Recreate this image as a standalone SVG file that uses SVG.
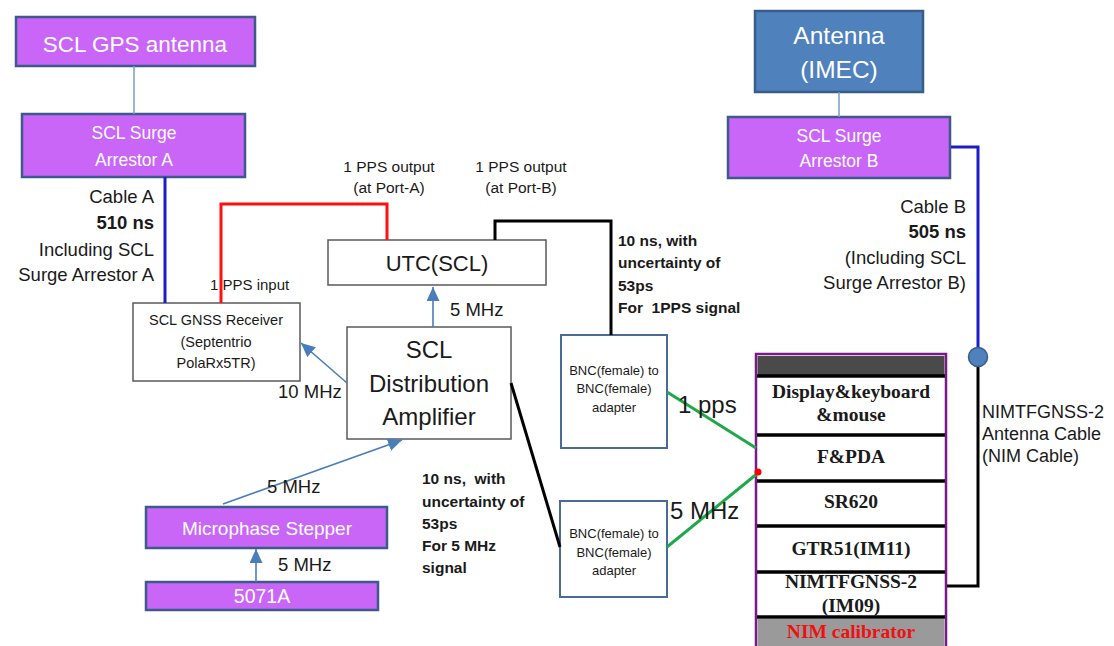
<svg xmlns="http://www.w3.org/2000/svg" width="1114" height="646" viewBox="0 0 1114 646">
<style>
text{font-family:"Liberation Sans",Arial,sans-serif;fill:#1a1a1a}
.w{fill:#fff}
.pbox{fill:#c966f8;stroke:#3d5a8a;stroke-width:2.5}
.bbox{fill:#4f81bd;stroke:#385d8a;stroke-width:2.5}
.wbox{fill:#fff;stroke:#5a5a5a;stroke-width:1.5}
.bnc{fill:#fff;stroke:#4a6b9a;stroke-width:2}
.b{font-weight:bold}
.rk{font-family:"Liberation Serif","Times New Roman",serif;font-weight:bold;font-size:19.5px;fill:#1a1a1a}
.arr{stroke:#4a7ebb;stroke-width:1.6;fill:none}
.thin{stroke:#7a9cc6;stroke-width:1.5;fill:none}
.blue{stroke:#1c1cc8;stroke-width:3;fill:none}
.red{stroke:#ff1010;stroke-width:3;fill:none}
.blk{stroke:#000;stroke-width:3;fill:none}
.grn{stroke:#1fa84a;stroke-width:3;fill:none}
.div{stroke:#000;stroke-width:3.5}
</style>
<defs>
<marker id="ah" markerUnits="userSpaceOnUse" markerWidth="16" markerHeight="14" refX="14" refY="6.5" orient="auto">
<path d="M0,0 L14,6.5 L0,13 Z" fill="#4a7ebb"/>
</marker>
</defs>

<g id="gps-antenna">
<rect class="pbox" x="16" y="17" width="239" height="49"/>
<text class="w" x="135" y="52" font-size="22.5" text-anchor="middle">SCL GPS antenna</text>
</g>
<g id="surge-a">
<rect class="pbox" x="22" y="114" width="223" height="63"/>
<text class="w" x="134" y="139" font-size="17.5" text-anchor="middle">SCL Surge</text>
<text class="w" x="134" y="166" font-size="17.5" text-anchor="middle">Arrestor A</text>
</g>
<g id="antenna-imec">
<rect class="bbox" x="755" y="11" width="168" height="81"/>
<text class="w" x="839" y="44" font-size="24.5" text-anchor="middle">Antenna</text>
<text class="w" x="839" y="78" font-size="24.5" text-anchor="middle">(IMEC)</text>
</g>
<g id="surge-b">
<rect class="pbox" x="728" y="117" width="222" height="61"/>
<text class="w" x="839" y="142" font-size="17.5" text-anchor="middle">SCL Surge</text>
<text class="w" x="839" y="167" font-size="17.5" text-anchor="middle">Arrestor B</text>
</g>
<g id="utc-scl">
<rect class="wbox" x="328" y="240" width="218" height="45"/>
<text x="437" y="271" font-size="22" text-anchor="middle">UTC(SCL)</text>
</g>
<g id="gnss-receiver">
<rect class="wbox" x="133" y="303" width="167" height="78"/>
<text x="216" y="325" font-size="14.5" text-anchor="middle">SCL GNSS Receiver</text>
<text x="216" y="347" font-size="14.5" text-anchor="middle">(Septentrio</text>
<text x="216" y="368" font-size="14.5" text-anchor="middle">PolaRx5TR)</text>
</g>
<g id="distribution-amplifier">
<rect class="wbox" x="347" y="327" width="164" height="112"/>
<text x="429" y="358" font-size="24" text-anchor="middle">SCL</text>
<text x="429" y="392" font-size="24" text-anchor="middle">Distribution</text>
<text x="429" y="425" font-size="24" text-anchor="middle">Amplifier</text>
</g>
<g id="microphase-stepper">
<rect class="pbox" x="146" y="507" width="241" height="41"/>
<text class="w" x="267" y="535" font-size="19" text-anchor="middle">Microphase Stepper</text>
</g>
<g id="cs-5071a">
<rect class="pbox" x="146" y="582" width="232" height="28"/>
<text class="w" x="262" y="603" font-size="19.5" text-anchor="middle">5071A</text>
</g>
<g id="bnc-1pps">
<rect class="bnc" x="561" y="335" width="106" height="113"/>
<text x="614" y="375" font-size="13" text-anchor="middle">BNC(female) to</text>
<text x="614" y="393" font-size="13" text-anchor="middle">BNC(female)</text>
<text x="614" y="412" font-size="13" text-anchor="middle">adapter</text>
</g>
<g id="bnc-5mhz">
<rect class="bnc" x="560" y="501" width="107" height="96"/>
<text x="614" y="538" font-size="13" text-anchor="middle">BNC(female) to</text>
<text x="614" y="557" font-size="13" text-anchor="middle">BNC(female)</text>
<text x="614" y="575" font-size="13" text-anchor="middle">adapter</text>
</g>
<g id="nim-rack">
<rect x="756" y="354" width="190" height="300" fill="#fff" stroke="#7a1a8a" stroke-width="2.5"/>
<rect x="757.5" y="356" width="187" height="19" fill="#4a4a4a"/>
<rect x="757.5" y="619" width="187" height="30" fill="#9a9a9a"/>
<line class="div" x1="757" y1="376" x2="945" y2="376"/>
<line class="div" x1="757" y1="435" x2="945" y2="435"/>
<line class="div" x1="757" y1="481" x2="945" y2="481"/>
<line class="div" x1="757" y1="526" x2="945" y2="526"/>
<line class="div" x1="757" y1="572" x2="945" y2="572"/>
<line class="div" x1="757" y1="617" x2="945" y2="617"/>
<text class="rk" x="851" y="398" text-anchor="middle">Display&amp;keyboard</text>
<text class="rk" x="851" y="421" text-anchor="middle">&amp;mouse</text>
<text class="rk" x="851" y="463" text-anchor="middle">F&amp;PDA</text>
<text class="rk" x="851" y="508" text-anchor="middle">SR620</text>
<text class="rk" x="851" y="555" text-anchor="middle">GTR51(IM11)</text>
<text class="rk" x="851" y="588" text-anchor="middle">NIMTFGNSS-2</text>
<text class="rk" x="851" y="612" text-anchor="middle">(IM09)</text>
<text class="rk" x="851" y="638" text-anchor="middle" style="fill:#ee1111">NIM calibrator</text>
</g>

<g id="connectors">
<line class="thin" x1="134" y1="66" x2="134" y2="114"/>
<line class="thin" x1="839" y1="92" x2="839" y2="117"/>
<polyline class="blue" points="165,177 165,303"/>
<polyline class="red" points="221,303 221,204 387,204 387,240"/>
<polyline class="blk" points="495,240 495,221 611,221 611,335"/>
<line class="blk" x1="511" y1="383" x2="560" y2="547"/>
<line class="grn" x1="667" y1="392" x2="756" y2="448"/>
<line class="grn" x1="667" y1="547" x2="758" y2="473"/>
<polyline class="blue" points="951,147 978,147 978,350"/>
<polyline class="blk" points="947,586 978,586 978,364"/>
<line class="arr" x1="433" y1="327" x2="433" y2="287" marker-end="url(#ah)"/>
<line class="arr" x1="347" y1="383" x2="301" y2="343" marker-end="url(#ah)"/>
<line class="arr" x1="223" y1="504" x2="402" y2="440" marker-end="url(#ah)"/>
<line class="arr" x1="256" y1="582" x2="256" y2="549" marker-end="url(#ah)"/>
<circle cx="978" cy="357" r="9.5" fill="#4f81bd" stroke="#385d8a" stroke-width="1.5"/>
<circle cx="758" cy="472" r="3.5" fill="#ff0000"/>
</g>

<g id="labels">
<text x="389" y="172" font-size="15.5" text-anchor="middle">1 PPS output</text>
<text x="389" y="193" font-size="15.5" text-anchor="middle">(at Port-A)</text>
<text x="521" y="172" font-size="15.5" text-anchor="middle">1 PPS output</text>
<text x="521" y="193" font-size="15.5" text-anchor="middle">(at Port-B)</text>
<text x="210" y="290" font-size="15">1 PPS input</text>
<g font-size="18.5" text-anchor="end">
<text x="154" y="203">Cable A</text>
<text x="154" y="229" class="b">510 ns</text>
<text x="154" y="256">Including SCL</text>
<text x="154" y="281">Surge Arrestor A</text>
</g>
<g font-size="18.5" text-anchor="end">
<text x="966" y="213">Cable B</text>
<text x="966" y="238" class="b">505 ns</text>
<text x="966" y="264">(Including SCL</text>
<text x="966" y="289">Surge Arrestor B)</text>
</g>
<g font-size="18">
<text x="982" y="418">NIMTFGNSS-2</text>
<text x="982" y="440">Antenna Cable</text>
<text x="982" y="462">(NIM Cable)</text>
</g>
<text x="450" y="316" font-size="18.5">5 MHz</text>
<text x="278" y="398" font-size="18.5">10 MHz</text>
<text x="267" y="493" font-size="18.5">5 MHz</text>
<text x="278" y="571" font-size="18.5">5 MHz</text>
<g font-size="15.5">
<text x="618" y="246" class="b">10 ns, with</text>
<text x="618" y="268" class="b">uncertainty of</text>
<text x="618" y="291" class="b">53ps</text>
<text x="618" y="313" class="b" xml:space="preserve">For  1PPS signal</text>
</g>
<g font-size="15.5">
<text x="422" y="484" class="b" xml:space="preserve">10 ns,  with</text>
<text x="422" y="507" class="b">uncertainty of</text>
<text x="422" y="529" class="b">53ps</text>
<text x="422" y="551" class="b">For 5 MHz</text>
<text x="422" y="573" class="b">signal</text>
</g>
<text x="678" y="413" font-size="24">1 pps</text>
<text x="670" y="519" font-size="24">5 MHz</text>
</g>
</svg>
